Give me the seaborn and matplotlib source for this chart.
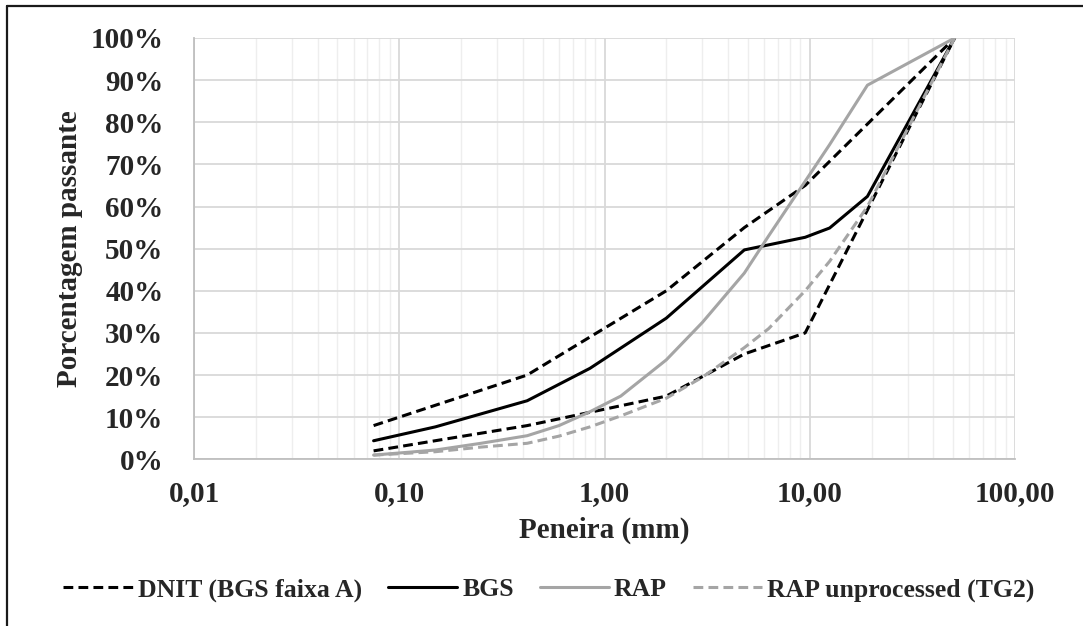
import matplotlib
matplotlib.use("Agg")
import numpy as np
import pandas as pd
import matplotlib.pyplot as plt
import seaborn as sns
from matplotlib.ticker import FixedLocator, FuncFormatter, LogLocator, NullFormatter
from matplotlib.lines import Line2D

# ---------------- data ----------------
sieve_dnit = [0.075, 0.42, 2.0, 4.8, 9.5, 50.8]
dnit_upper = [8, 20, 40, 55, 65, 100]
dnit_lower = [2, 8, 15, 25, 30, 100]

sieve_bgs = [0.075, 0.15, 0.42, 0.85, 2.0, 4.8, 9.5, 12.5, 19.1, 50.8]
bgs = [4.4, 7.7, 13.9, 21.6, 33.5, 49.7, 52.7, 54.9, 62.4, 100]

sieve_rap = [0.075, 0.15, 0.25, 0.42, 0.6, 0.85, 1.2, 2.0, 3.0, 4.8, 6.3, 9.5, 12.5, 19.1, 50.8]
rap = [1.0, 2.2, 3.8, 5.6, 8.0, 11.3, 15.0, 23.6, 32.5, 44.2, 53.0, 66.0, 74.7, 88.8, 100]
rap_unprocessed = [1.0, 1.8, 2.9, 3.8, 5.5, 7.7, 10.3, 14.5, 19.5, 26.5, 31.0, 40.0, 47.0, 60.0, 100]

x_ticks = [0.01, 0.1, 1, 10, 100]
y_ticks = [0, 10, 20, 30, 40, 50, 60, 70, 80, 90, 100]

labels = ["DNIT (BGS faixa A)", "BGS", "RAP", "RAP unprocessed (TG2)"]
x_label = "Peneira (mm)"
y_label = "Porcentagem passante"

# ---------------- style ----------------
sns.set_style("white")
plt.rcParams["font.family"] = ["Liberation Serif", "DejaVu Serif"]
plt.rcParams["font.weight"] = "bold"

BLACK = "#000000"
GREY = "#A5A5A5"
LW = 2.2
DASH = (3.2, 1.7)

fig = plt.figure(figsize=(10.83, 6.26), dpi=100)
ax = fig.add_axes([194 / 1083, 1 - 459.3 / 626, (1015 - 194) / 1083, (459.3 - 38) / 626])

df_up = pd.DataFrame({"x": sieve_dnit, "y": dnit_upper})
df_lo = pd.DataFrame({"x": sieve_dnit, "y": dnit_lower})
df_bgs = pd.DataFrame({"x": sieve_bgs, "y": bgs})
df_rap = pd.DataFrame({"x": sieve_rap, "y": rap})
df_rapu = pd.DataFrame({"x": sieve_rap, "y": rap_unprocessed})

sns.lineplot(data=df_up, x="x", y="y", ax=ax, color=BLACK, lw=LW,
             linestyle=(0, DASH), estimator=None, sort=False)
sns.lineplot(data=df_lo, x="x", y="y", ax=ax, color=BLACK, lw=LW,
             linestyle=(0, DASH), estimator=None, sort=False)
sns.lineplot(data=df_bgs, x="x", y="y", ax=ax, color=BLACK, lw=LW,
             estimator=None, sort=False)
sns.lineplot(data=df_rap, x="x", y="y", ax=ax, color=GREY, lw=LW,
             estimator=None, sort=False)
sns.lineplot(data=df_rapu, x="x", y="y", ax=ax, color=GREY, lw=LW,
             linestyle=(0, DASH), estimator=None, sort=False)

ax.set_xscale("log")
ax.set_xlim(0.01, 100)
ax.set_ylim(0, 100)

ax.xaxis.set_major_locator(FixedLocator(x_ticks))
ax.xaxis.set_minor_locator(LogLocator(base=10, subs=np.arange(2, 10)))
ax.xaxis.set_minor_formatter(NullFormatter())
ax.xaxis.set_major_formatter(FuncFormatter(lambda v, p: f"{v:.2f}".replace(".", ",")))
ax.yaxis.set_major_locator(FixedLocator(y_ticks))
ax.yaxis.set_major_formatter(FuncFormatter(lambda v, p: f"{v:.0f}%"))

ax.grid(True, which="major", color="#D9D9D9", lw=1.3)
ax.grid(True, which="minor", axis="x", color="#EEEEEE", lw=1.0)
ax.set_axisbelow(True)

ax.tick_params(axis="both", which="both", length=0, labelsize=21)
ax.tick_params(axis="x", pad=15)
ax.tick_params(axis="y", pad=22)
for lab in ax.get_xticklabels() + ax.get_yticklabels():
    lab.set_fontweight("bold")

for s in ["top", "right"]:
    ax.spines[s].set_visible(False)
for s in ["left", "bottom"]:
    ax.spines[s].set_color("#BFBFBF")
    ax.spines[s].set_linewidth(1.3)

ax.set_xlabel(x_label, fontsize=21, fontweight="bold")
ax.set_ylabel(y_label, fontsize=21, fontweight="bold")
ax.xaxis.set_label_coords(0.5, -0.135)
ax.yaxis.set_label_coords(-0.135, 0.5)

handles = [
    Line2D([], [], color=BLACK, lw=LW, linestyle=(0, DASH)),
    Line2D([], [], color=BLACK, lw=LW),
    Line2D([], [], color=GREY, lw=LW),
    Line2D([], [], color=GREY, lw=LW, linestyle=(0, DASH)),
]
fig.legend(handles, labels, loc="center", bbox_to_anchor=(549 / 1083, 1 - 590 / 626),
           ncol=4, frameon=False, prop={"size": 18.5, "weight": "bold"},
           handlelength=2.7, handletextpad=0.2, columnspacing=1.0)

# outer frame (left and top edges of the original box)
fig.add_artist(Line2D([7 / 1083, 7 / 1083], [0, 1 - 6 / 626], transform=fig.transFigure,
                      color="#1A1A1A", lw=1.6))
fig.add_artist(Line2D([7 / 1083, 1], [1 - 6 / 626, 1 - 6 / 626], transform=fig.transFigure,
                      color="#1A1A1A", lw=1.6))

fig.savefig("out.png", dpi=100)
